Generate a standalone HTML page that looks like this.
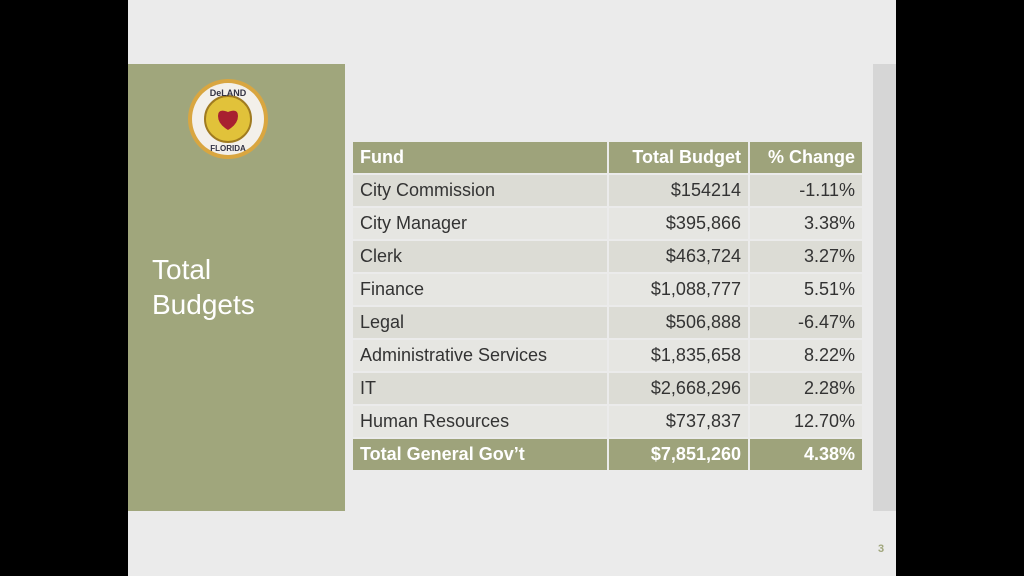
<!DOCTYPE html>
<html><head><style>
body{margin:0;width:1024px;height:576px;background:#000;position:relative;overflow:hidden;font-family:"Liberation Sans",sans-serif}
.slide{position:absolute;left:128px;top:0;width:768px;height:576px;background:#ebebeb}
.panel{position:absolute;left:128px;top:64px;width:217px;height:447px;background:#a0a67c}
.strip{position:absolute;left:873px;top:64px;width:23px;height:447px;background:#d6d6d6}
.title{position:absolute;left:152px;top:252px;color:#fff;font-size:28px;line-height:35px}
table{position:absolute;left:351px;top:140px;border-collapse:separate;border-spacing:2px;font-size:18px;color:#333}
td{height:31px;padding:0 7px;box-sizing:border-box}
td.r{text-align:right}
tr:nth-child(even) td{background:#dcdcd5}
tr:nth-child(odd) td{background:#e6e6e2}
tr.h td,tr.t td{background:#9ea37b;color:#fff;font-weight:bold}
.num{position:absolute;left:878px;top:543px;color:#a0a67c;font-size:11px;font-weight:bold}
</style></head><body>
<div class="slide"></div>
<div class="panel"></div>
<div class="strip"></div>
<svg style="position:absolute;left:187px;top:78px" width="82" height="82">
<circle cx="41" cy="41" r="40" fill="#d9a640"/>
<circle cx="41" cy="41" r="36" fill="#f3f0ea"/>
<circle cx="41" cy="41" r="23" fill="#e1c23a" stroke="#a07b20" stroke-width="2"/>
<path d="M31 38 q0-8 10-4 q10-4 10 4 q0 8-10 14 q-10-6-10-14z" fill="#a82030"/>
<text x="41" y="18" font-size="9" font-weight="bold" text-anchor="middle" fill="#334">DeLAND</text>
<text x="41" y="73" font-size="8" font-weight="bold" text-anchor="middle" fill="#334">FLORIDA</text>
</svg>
<div class="title">Total<br>Budgets</div>
<table>
<tr class="h"><td style="width:254px">Fund</td><td class="r" style="width:139px">Total Budget</td><td class="r" style="width:112px">% Change</td></tr>
<tr><td>City Commission</td><td class="r">$154214</td><td class="r">-1.11%</td></tr>
<tr><td>City Manager</td><td class="r">$395,866</td><td class="r">3.38%</td></tr>
<tr><td>Clerk</td><td class="r">$463,724</td><td class="r">3.27%</td></tr>
<tr><td>Finance</td><td class="r">$1,088,777</td><td class="r">5.51%</td></tr>
<tr><td>Legal</td><td class="r">$506,888</td><td class="r">-6.47%</td></tr>
<tr><td>Administrative Services</td><td class="r">$1,835,658</td><td class="r">8.22%</td></tr>
<tr><td>IT</td><td class="r">$2,668,296</td><td class="r">2.28%</td></tr>
<tr><td>Human Resources</td><td class="r">$737,837</td><td class="r">12.70%</td></tr>
<tr class="t"><td>Total General Gov’t</td><td class="r">$7,851,260</td><td class="r">4.38%</td></tr>
</table>
<div class="num">3</div>
</body></html>
